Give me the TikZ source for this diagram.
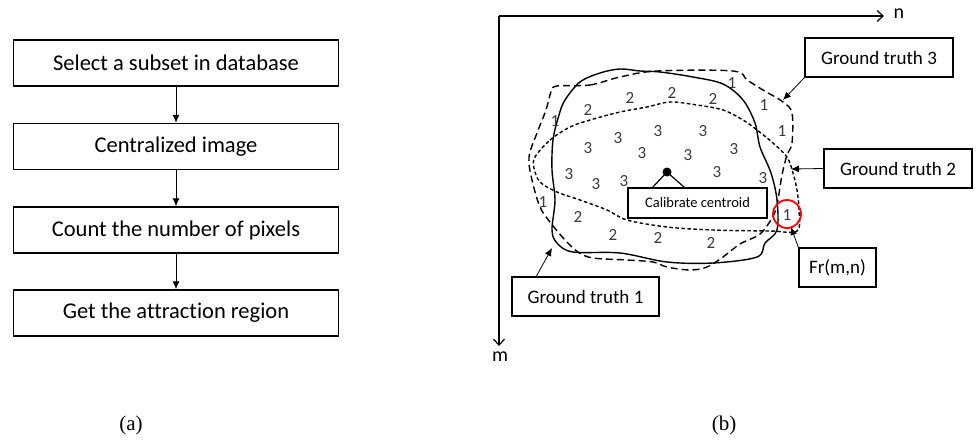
\documentclass[tikz,border=0pt]{standalone}
\usepackage{fontspec}
\setmainfont[Ligatures=NoCommon]{Carlito}
\newfontfamily\capfont{Liberation Serif}
\usetikzlibrary{arrows.meta,positioning}
\definecolor{digit}{HTML}{3A3A3A}
\tikzset{
  flowbox/.style={draw=black, line width=1.4pt, minimum width=325pt, minimum height=46pt, inner sep=0pt, font=\fontsize{22.5}{26}\selectfont},
  gtbox/.style={draw=black, line width=1.4pt, inner sep=0pt, font=\fontsize{19}{22}\selectfont},
  flowarrow/.style={-{Latex[length=8pt,width=7pt]}, line width=1pt},
  callout/.style={-{Latex[length=8pt,width=7pt]}, line width=0.8pt},
  axis/.style={-{Straight Barb[length=6pt,width=11pt]}, line width=1.2pt},
  dig/.style={text=digit, font=\fontsize{17}{20}\selectfont, inner sep=0pt},
  gtone/.style={line width=1.4pt},
  gtthree/.style={line width=1.4pt, dash pattern=on 7pt off 4pt},
  gttwo/.style={line width=1.4pt, dash pattern=on 3.5pt off 2.5pt},
  caption/.style={font=\capfont\fontsize{21}{24}\selectfont}
}
\begin{document}
\begin{tikzpicture}[x=1pt,y=-1pt]
\useasboundingbox (0,0) rectangle (978,440);

% ---------- (a) flowchart ----------
\node[flowbox] (s1) at (176,63) {Select a subset in database};
\node[flowbox] (s2) at (176,146.5) {Centralized image};
\node[flowbox] (s3) at (176,230) {Count the number of pixels};
\node[flowbox] (s4) at (176,313) {Get the attraction region};
\draw[flowarrow] (s1) -- (s2);
\draw[flowarrow] (s2) -- (s3);
\draw[flowarrow] (s3) -- (s4);
\node[caption] (capa) at (131,425) {(a)};

% ---------- (b) ----------
\coordinate (O) at (499,16);
\coordinate (nend) at (884,16);
\coordinate (mend) at (499,346);
\draw[axis] (O) -- (nend);
\draw[axis] (O) -- (mend);
\node[font=\fontsize{20}{22}\selectfont, anchor=west] (nlab) at (890,14) {n};
\node[font=\fontsize{20}{22}\selectfont] (mlab) at (500,357) {m};

% Ground truth 3 (long dashes)
\draw[gtthree] plot[smooth cycle, tension=0.55] coordinates {
 (557,86) (590,85) (620,77) (657,71) (733,71) (747,80) (763,90) (783,102)
 (792,113) (792,143) (787,155) (782,175) (777,205) (772,218) (760,234)
 (740,244) (723,257) (707,267) (690,270) (667,267) (653,262) (627,260)
 (593,258) (578,252) (565,240) (550,222) (540,207) (532,180) (529,157)
 (537,133) (546,110) (551,92)};

% Ground truth 2 (short dashes)
\draw[gttwo] plot[smooth cycle, tension=0.55] coordinates {
 (535,157) (550,140) (570,127) (590,120) (620,112) (647,107) (670,102)
 (697,105) (723,110) (743,120) (757,130) (773,143) (787,157) (793,173)
 (797,190) (799,210) (797,231) (770,231) (713,230) (667,227) (627,220)
 (607,210) (580,200) (557,192) (540,182) (534,168)};

% Ground truth 1 (solid)
\draw[gtone] plot[smooth cycle, tension=0.55] coordinates {
 (580,82) (600,73) (620,69) (640,71) (660,72) (693,77) (723,84) (743,100)
 (755,123) (760,147) (771,173) (777,200) (777,230) (765,243) (757,257)
 (713,263) (667,262) (620,253) (573,252) (557,243) (552,230) (555,200)
 (552,170) (553,140) (559,115) (565,100)};

% digits
\node[dig] (d1a) at (732,83) {1};
\node[dig] (d1b) at (764,105) {1};
\node[dig] (d1c) at (782,131) {1};
\node[dig] (d1d) at (555,121) {1};
\node[dig] (d1e) at (543,202) {1};
\node[dig] (d1f) at (787,215) {1};
\node[dig] (d2a) at (588,110) {2};
\node[dig] (d2b) at (630,98) {2};
\node[dig] (d2c) at (672,93) {2};
\node[dig] (d2d) at (713,99) {2};
\node[dig] (d2e) at (578,217) {2};
\node[dig] (d2f) at (613,235) {2};
\node[dig] (d2g) at (658,238) {2};
\node[dig] (d2h) at (711,243) {2};
\node[dig] (d3a) at (588,148) {3};
\node[dig] (d3b) at (618,138) {3};
\node[dig] (d3c) at (658,131) {3};
\node[dig] (d3d) at (703,131) {3};
\node[dig] (d3e) at (642,153) {3};
\node[dig] (d3f) at (688,155) {3};
\node[dig] (d3g) at (734,149) {3};
\node[dig] (d3h) at (569,174) {3};
\node[dig] (d3i) at (596,184) {3};
\node[dig] (d3j) at (624,181) {3};
\node[dig] (d3k) at (717,172) {3};
\node[dig] (d3l) at (763,178) {3};

% red circle
\node[draw=red, line width=1.8pt, circle, minimum size=28pt, inner sep=0pt] (frc) at (787,214) {};

% centroid
\fill (667,172) circle (4.5pt) coordinate (cen);
\node[gtbox, minimum width=139pt, minimum height=30pt, font=\fontsize{14.5}{17}\selectfont] (cc) at (697.5,203) {Calibrate centroid};
\coordinate (ccl) at (652,188);
\coordinate (ccr) at (685,188);
\draw[line width=1.2pt] (ccl) -- (cen) -- (ccr);

% labels
\node[gtbox, minimum width=148pt, minimum height=39pt] (gt3) at (879,57.5) {Ground truth 3};
\node[gtbox, minimum width=148pt, minimum height=39pt] (gt2) at (898,168.5) {Ground truth 2};
\node[gtbox, minimum width=77pt, minimum height=39pt] (fr) at (837.5,267.5) {Fr(m,n)};
\node[gtbox, minimum width=147pt, minimum height=39pt] (gt1) at (585.5,296.5) {Ground truth 1};

\coordinate (gt3t) at (783,100);
\coordinate (gt2t) at (791,169);
\coordinate (frt) at (791,227);
\coordinate (gt1t) at (552,248);
\draw[callout] (gt3.south west) -- (gt3t);
\draw[callout] (gt2.west) -- (gt2t);
\draw[callout] (fr.north west) -- (frt);
\draw[callout] ([xshift=25pt]gt1.north west) -- (gt1t);

\node[caption] (capb) at (724,425) {(b)};
\end{tikzpicture}
\end{document}
